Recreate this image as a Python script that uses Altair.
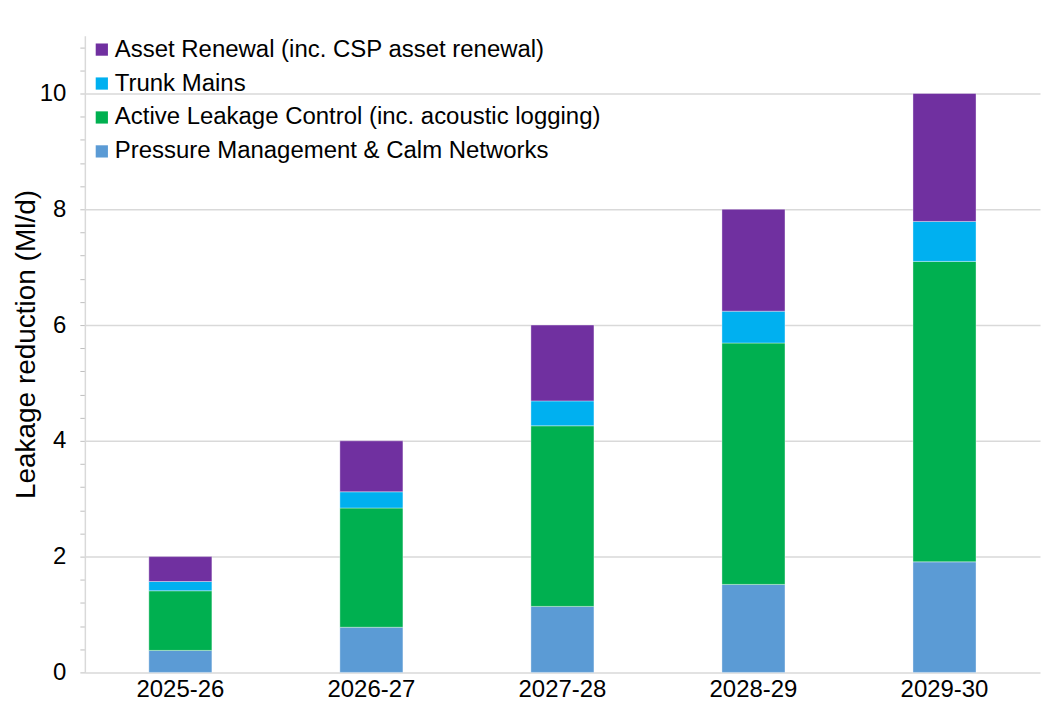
import altair as alt
import pandas as pd

years = ["2025-26", "2026-27", "2027-28", "2028-29", "2029-30"]
series = [
    "Pressure Management & Calm Networks",
    "Active Leakage Control (inc. acoustic logging)",
    "Trunk Mains",
    "Asset Renewal (inc. CSP asset renewal)",
]
pressure = [0.38, 0.78, 1.14, 1.52, 1.91]
alc = [1.03, 2.06, 3.12, 4.17, 5.19]
trunk = [0.16, 0.28, 0.43, 0.55, 0.69]
asset = [0.43, 0.88, 1.31, 1.76, 2.21]
colors = ["#5B9BD5", "#00B050", "#00B0F0", "#7030A0"]
legend_order = [series[3], series[2], series[1], series[0]]
legend_colors = [colors[3], colors[2], colors[1], colors[0]]

rows = []
for si, (name, vals) in enumerate(zip(series, [pressure, alc, trunk, asset])):
    for y, v in zip(years, vals):
        rows.append({"year": y, "series": name, "value": v, "order": si})
df = pd.DataFrame(rows)

tick_vals = [round(i * 0.4, 1) for i in range(0, 28)]
FONT = "Liberation Sans"

chart = alt.Chart(df).mark_bar(stroke="white", strokeWidth=0.6, strokeOpacity=0.6).encode(
    x=alt.X("year:N", title=None, sort=years,
            scale=alt.Scale(paddingInner=0.67, paddingOuter=0.335),
            axis=alt.Axis(labelFontSize=24, labelColor="#000000", labelAngle=0,
                          ticks=False, grid=False, labelPadding=5, domainColor="#D9D9D9",
                          domainWidth=1.5, labelFont=FONT)),
    y=alt.Y("value:Q", stack="zero", title="Leakage reduction (Ml/d)",
            scale=alt.Scale(domain=[0, 11], nice=False),
            axis=alt.Axis(values=tick_vals,
                          labelExpr="datum.value % 2 == 0 ? format(datum.value, 'd') : ''",
                          grid=True,
                          gridColor={"condition": {"test": "datum.value % 2 == 0 && datum.value > 0", "value": "#D9D9D9"}, "value": "transparent"},
                          gridWidth=1.5,
                          labelFontSize=24, labelColor="#000000", labelFont=FONT,
                          tickSize=5, tickColor="#BFBFBF", labelPadding=14,
                          domainColor="#D9D9D9", domainWidth=1.5,
                          titleFontSize=28, titleFontWeight="normal", titleColor="#000000",
                          titleFont=FONT, titleX=-58, titleY=309, titleAngle=270,
                          titleAlign="center", titleBaseline="middle")),
    color=alt.Color("series:N",
                    scale=alt.Scale(domain=legend_order, range=legend_colors),
                    legend=alt.Legend(title=None, orient="none", legendX=5, legendY=2,
                                      symbolType="square", symbolSize=150,
                                      symbolStrokeWidth=0, labelFontSize=24,
                                      labelFont=FONT, labelColor="#000000",
                                      rowPadding=10, labelOffset=1, labelLimit=700)),
    order=alt.Order("order:Q"),
).properties(
    width=957, height=638,
    autosize=alt.AutoSizeParams(type="none"),
    padding={"left": 77, "top": 27, "right": 5, "bottom": 40},
).configure_view(stroke=None)

chart.save("out.html", embed_options={"renderer": "svg", "actions": False})
